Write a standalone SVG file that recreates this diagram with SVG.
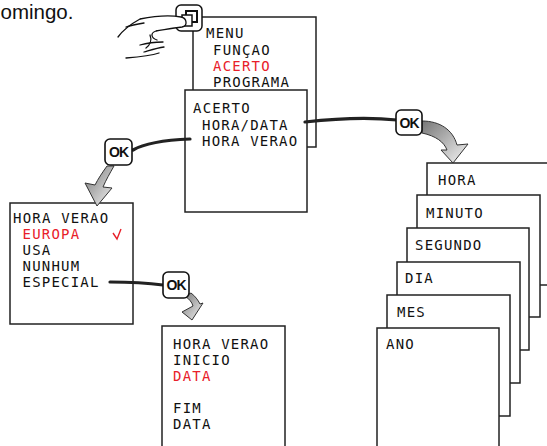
<svg xmlns="http://www.w3.org/2000/svg" width="547" height="446" viewBox="0 0 547 446">
<defs>
<style>
.box{fill:#fff;stroke:#222;stroke-width:1.5}
.lcd{font-family:"DejaVu Sans Mono","Liberation Mono",monospace;font-size:14px;letter-spacing:1.2px;fill:#111}
.red{fill:#e8202a}
.ok rect{fill:#fff;stroke:#111;stroke-width:1.6}
.ok text{font-family:"Liberation Sans",Arial,sans-serif;font-weight:bold;font-size:14px;letter-spacing:-1px;fill:#111;text-anchor:middle}
.conn{fill:none;stroke:#222;stroke-width:3.2;stroke-linecap:round}
.garrow{fill:url(#gg);stroke:#333;stroke-width:1;stroke-linejoin:round}
.hand{fill:none;stroke:#111;stroke-width:1.3;stroke-linecap:round}
</style>
<linearGradient id="gg" x1="0" y1="0" x2="1" y2="1">
<stop offset="0" stop-color="#777"/>
<stop offset="1" stop-color="#f4f4f4"/>
</linearGradient>
</defs>
<rect width="547" height="446" fill="#fff"/>
<text x="0.5" y="18.5" font-family="Liberation Sans,Arial,sans-serif" font-size="20.5" fill="#111">omingo.</text>

<g id="menu">
<rect class="box" x="193" y="17" width="123" height="130"/>
<text class="lcd" x="206" y="38">MENU</text>
<text class="lcd" x="213" y="54.5">FUNÇAO</text>
<text class="lcd red" x="213" y="71">ACERTO</text>
<text class="lcd" x="213" y="87">PROGRAMA</text>
</g>

<g id="acerto">
<rect class="box" x="185" y="90" width="122" height="122"/>
<text class="lcd" x="193" y="113">ACERTO</text>
<text class="lcd" x="202" y="129.5">HORA/DATA</text>
<text class="lcd" x="202" y="145.5">HORA VERAO</text>
</g>

<g id="button">
<rect x="176" y="5" width="26" height="26" rx="5" fill="#fff" stroke="#111" stroke-width="1.5"/>
<rect x="186" y="11" width="11" height="11" fill="#fff" stroke="#111" stroke-width="2"/>
<rect x="182" y="15" width="10" height="11" fill="#fff" stroke="#111" stroke-width="1.5"/>
</g>

<g id="hand">
<path d="M140,19 C155,16 170,15 181,17 C187,18 188,26 182,27 C172,28 163,30 156,31" fill="#fff" stroke="#111" stroke-width="1.3"/>
<path class="hand" d="M118,37 C123,30 131,24 140,19"/>
<path class="hand" d="M126,27 C132,25 138,24 144,23"/>
<path class="hand" d="M156,31 C150,33 151,38 157,40"/>
<path class="hand" d="M150,35 C152,40 150,45 146,48"/>
<path class="hand" d="M140,45 C147,43 155,42 163,42"/>
<path class="hand" d="M144,52 C151,50 157,48 164,47"/>
<path class="hand" d="M126,58 C138,57 150,56 159,53"/>
</g>

<g id="horaverao">
<rect class="box" x="10" y="203" width="123" height="121"/>
<text class="lcd" x="13" y="223">HORA VERAO</text>
<text class="lcd red" x="22.5" y="239">EUROPA</text>
<path d="M113,233 L117,239 L121,229" fill="none" stroke="#e8202a" stroke-width="1.4"/>
<text class="lcd" x="22.5" y="255">USA</text>
<text class="lcd" x="22.5" y="271">NUNHUM</text>
<text class="lcd" x="22.5" y="287">ESPECIAL</text>
</g>

<g id="especial">
<rect class="box" x="162" y="326" width="123" height="130"/>
<text class="lcd" x="173" y="349">HORA VERAO</text>
<text class="lcd" x="173" y="365">INICIO</text>
<text class="lcd red" x="173" y="381">DATA</text>
<text class="lcd" x="173" y="413">FIM</text>
<text class="lcd" x="173" y="429">DATA</text>
</g>

<g id="hora"><rect class="box" x="427" y="163" width="124" height="122"/><text class="lcd" x="438" y="185">HORA</text></g>
<g id="minuto"><rect class="box" x="417" y="195" width="123" height="122"/><text class="lcd" x="426" y="218">MINUTO</text></g>
<g id="segundo"><rect class="box" x="407" y="228" width="122" height="122"/><text class="lcd" x="415" y="250">SEGUNDO</text></g>
<g id="dia"><rect class="box" x="397" y="262" width="123" height="121"/><text class="lcd" x="405" y="283">DIA</text></g>
<g id="mes"><rect class="box" x="387" y="295" width="123" height="121"/><text class="lcd" x="397" y="317">MES</text></g>
<g id="ano"><rect class="box" x="377" y="328" width="122" height="130"/><text class="lcd" x="386" y="349">ANO</text></g>

<g id="connectors">
<path class="conn" d="M190,139 C165,140 145,143 133,150"/>
<path class="conn" d="M305,122 C340,118 370,117 397,120"/>
<path class="conn" d="M110,282 C130,282 148,283 163,285"/>
<path class="garrow" d="M107,166 C102,173 98,179 95,185 L85,183 L97,206 L112,188 L103,187 C106,180 110,173 114,166 Z"/>
<path class="garrow" d="M422,121 C440,121 453,130 457,145 L468,144 L453,163 L441,150 L447,150 C444,142 436,136 422,133 Z"/>
<path class="garrow" d="M185,296 C189,299 192,302 193,306 L182,312 L192,320 L203,303 L200,304 C198,300 195,296 191,293 Z"/>
</g>

<g id="ok1" class="ok"><rect x="105" y="139" width="27" height="26" rx="5"/><text x="118.5" y="157">OK</text></g>
<g id="ok2" class="ok"><rect x="396" y="110" width="26" height="25" rx="5"/><text x="409" y="127.5">OK</text></g>
<g id="ok3" class="ok"><rect x="163" y="272" width="26" height="26" rx="5"/><text x="176" y="290">OK</text></g>
</svg>
